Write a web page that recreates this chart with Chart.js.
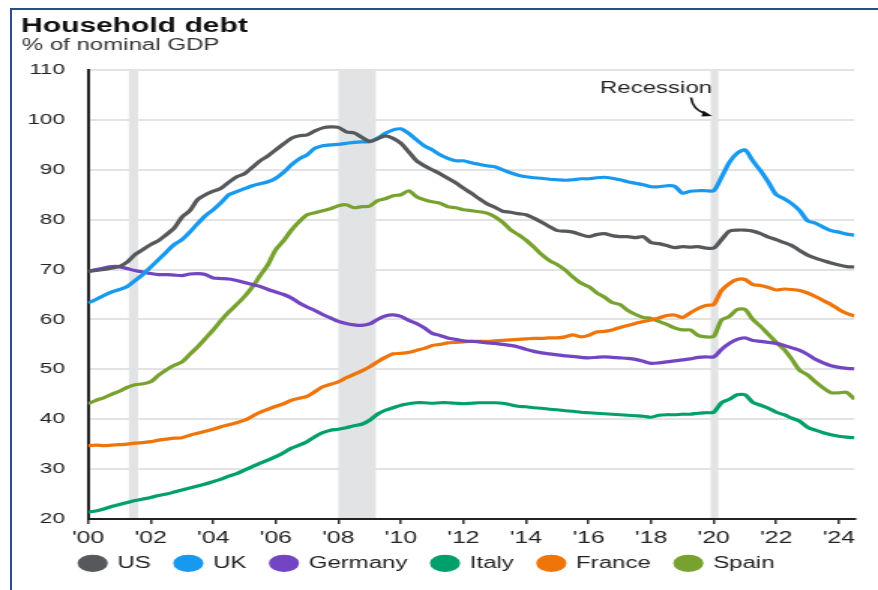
<!DOCTYPE html>
<html>
<head>
<meta charset="utf-8">
<title>Household debt</title>
<script src="https://cdn.jsdelivr.net/npm/chart.js@4.4.1/dist/chart.umd.min.js"></script>
<style>
  html, body { margin: 0; padding: 0; background: #fff; }
  body { width: 878px; height: 590px; position: relative; overflow: hidden; }
  #frame {
    position: absolute; left: 10px; top: 8px; right: 0; bottom: 0;
    border-left: 2px solid #2d4c85; border-top: 2px solid #2d4c85;
  }
  /* chart is laid out narrow and widened, which gives the wide lettering */
  #stage {
    position: absolute; left: 0; top: 0; width: 585px; height: 590px;
    transform: scaleX(1.50085); transform-origin: 0 0;
  }
</style>
</head>
<body>
<div id="frame"></div>
<div id="stage"><canvas id="debtChart" width="585" height="590"></canvas></div>
<script>
// household debt, % of nominal GDP, quarterly from 2000 Q1 to 2024 Q3
const usDebt = [
  69.6, 69.8, 70.0, 70.3,  70.6, 71.5, 73.0, 74.0,  75.0, 75.8, 77.0, 78.3,
  80.5, 81.8, 84.0, 85.0,  85.7, 86.3, 87.5, 88.6,  89.2, 90.5, 91.8, 92.8,
  94.0, 95.2, 96.3, 96.8,  97.0, 97.8, 98.4, 98.6,  98.5, 97.6, 97.4, 96.5,
  95.7, 96.2, 96.8, 96.3,  95.3, 93.6, 91.8, 90.8,  90.0, 89.2, 88.3, 87.4,
  86.3, 85.3, 84.2, 83.2,  82.5, 81.7, 81.5, 81.2,  81.0, 80.3, 79.5, 78.6,
  77.8, 77.7, 77.5, 77.0,  76.6, 77.0, 77.2, 76.8,  76.6, 76.6, 76.4, 76.6,
  75.4, 75.2, 74.8, 74.4,  74.6, 74.5, 74.6, 74.3,  74.3, 76.0, 77.7, 77.9,
  77.9, 77.7, 77.2, 76.5,  76.0, 75.4, 74.8, 73.8,  72.9, 72.3, 71.8, 71.3,
  70.9, 70.6, 70.5
];
const ukDebt = [
  63.3, 64.0, 64.8, 65.5,  66.0, 66.6, 67.8, 69.0,  70.5, 72.0, 73.5, 75.0,
  76.0, 77.5, 79.2, 80.8,  82.0, 83.4, 85.0, 85.6,  86.2, 86.8, 87.2, 87.6,
  88.3, 89.5, 91.0, 92.2,  93.0, 94.3, 94.8, 95.0,  95.1, 95.3, 95.5, 95.6,
  95.6, 96.3, 97.3, 98.0,  98.2, 97.3, 96.0, 94.8,  94.0, 93.0, 92.3, 91.8,
  91.8, 91.4, 91.1, 90.8,  90.6, 90.0, 89.4, 88.9,  88.6, 88.4, 88.3, 88.1,
  88.0, 87.9, 88.0, 88.2,  88.2, 88.4, 88.5, 88.3,  88.0, 87.6, 87.3, 87.0,
  86.6, 86.6, 86.8, 86.7,  85.3, 85.7, 85.8, 85.8,  85.8, 88.5, 91.5, 93.3,
  94.0, 91.8, 89.8, 87.5,  85.0, 84.2, 83.2, 81.8,  79.8, 79.3, 78.5, 77.8,
  77.5, 77.1, 76.9
];
const germanyDebt = [
  69.6, 70.0, 70.3, 70.6,  70.6, 70.2, 69.8, 69.5,  69.2, 69.0, 69.0, 68.9,
  68.8, 69.1, 69.2, 69.0,  68.3, 68.2, 68.1, 67.8,  67.4, 67.0, 66.6, 66.0,
  65.5, 65.0, 64.3, 63.3,  62.5, 61.8, 61.0, 60.3,  59.6, 59.2, 58.9, 58.8,
  59.1, 60.0, 60.7, 60.9,  60.6, 59.8, 59.2, 58.3,  57.2, 56.8, 56.3, 56.0,
  55.7, 55.6, 55.5, 55.3,  55.2, 55.0, 54.8, 54.5,  54.0, 53.6, 53.3, 53.1,
  52.9, 52.7, 52.6, 52.4,  52.3, 52.4, 52.5, 52.4,  52.3, 52.2, 52.0, 51.6,
  51.2, 51.3, 51.5, 51.7,  51.9, 52.1, 52.4, 52.5,  52.5, 54.0, 55.2, 56.0,
  56.3, 55.8, 55.6, 55.4,  55.2, 54.8, 54.3, 53.8,  53.0, 52.0, 51.3, 50.7,
  50.4, 50.2, 50.1
];
const italyDebt = [
  21.4, 21.6, 22.0, 22.5,  22.9, 23.3, 23.7, 24.0,  24.3, 24.7, 25.0, 25.4,
  25.8, 26.2, 26.6, 27.0,  27.5, 28.0, 28.6, 29.1,  29.8, 30.5, 31.2, 31.8,
  32.5, 33.3, 34.2, 34.8,  35.5, 36.5, 37.3, 37.8,  38.0, 38.3, 38.7, 39.0,
  39.8, 41.0, 41.8, 42.3,  42.8, 43.1, 43.3, 43.3,  43.2, 43.3, 43.3, 43.2,
  43.1, 43.2, 43.3, 43.3,  43.3, 43.2, 42.9, 42.6,  42.5, 42.3, 42.2, 42.0,
  41.9, 41.7, 41.6, 41.4,  41.3, 41.2, 41.1, 41.0,  40.9, 40.8, 40.7, 40.6,
  40.4, 40.8, 40.9, 40.9,  41.0, 41.0, 41.2, 41.3,  41.4, 43.3, 44.0, 44.9,
  44.9, 43.4, 42.8, 42.2,  41.4, 40.9, 40.2, 39.6,  38.4, 37.8, 37.3, 36.9,
  36.6, 36.4, 36.3
];
const franceDebt = [
  34.7, 34.8, 34.7, 34.8,  34.9, 35.0, 35.2, 35.3,  35.5, 35.8, 36.0, 36.2,
  36.3, 36.8, 37.2, 37.6,  38.0, 38.5, 38.9, 39.3,  39.8, 40.6, 41.4, 42.0,
  42.6, 43.1, 43.8, 44.2,  44.6, 45.5, 46.5, 47.0,  47.5, 48.3, 49.0, 49.7,
  50.5, 51.5, 52.4, 53.1,  53.2, 53.4, 53.8, 54.2,  54.8, 55.0, 55.3, 55.4,
  55.5, 55.6, 55.6, 55.6,  55.7, 55.8, 55.9, 56.0,  56.1, 56.2, 56.2, 56.3,
  56.3, 56.5, 56.9, 56.5,  56.8, 57.5, 57.6, 57.9,  58.4, 58.8, 59.2, 59.6,
  59.9, 60.3, 60.8, 60.9,  60.4, 61.3, 62.2, 62.8,  63.0, 65.8, 67.2, 68.0,
  68.0, 67.0, 66.8, 66.4,  65.9, 66.1, 66.0, 65.8,  65.3, 64.6, 63.8, 63.0,
  62.0, 61.2, 60.7
];
const spainDebt = [
  43.1, 43.8, 44.3, 45.0,  45.6, 46.4, 46.9, 47.1,  47.5, 48.8, 49.9, 50.8,
  51.5, 53.0, 54.5, 56.2,  57.9, 59.8, 61.5, 63.0,  64.6, 66.5, 68.8, 71.0,
  74.0, 75.8, 77.9, 79.6,  81.0, 81.4, 81.8, 82.2,  82.8, 83.0, 82.4, 82.6,
  82.7, 83.8, 84.2, 84.8,  85.0, 85.8, 84.6, 84.0,  83.6, 83.3, 82.6, 82.4,
  82.0, 81.8, 81.6, 81.3,  80.6, 79.5, 78.0, 77.0,  75.9, 74.5, 73.0, 71.8,
  71.0, 69.9, 68.5, 67.3,  66.6, 65.4, 64.5, 63.4,  63.0, 61.8, 61.0, 60.4,
  60.2, 59.6, 59.0, 58.3,  57.9, 57.9, 56.8, 56.5,  56.6, 59.9, 60.6, 62.0,
  62.0, 60.0, 58.6, 57.0,  55.4, 54.0, 52.0, 49.8,  48.9, 47.5, 46.3, 45.3,
  45.3, 45.4, 44.0
];

const quarters = usDebt.map((_, i) => 2000 + i / 4);
const xTickYears = [2000, 2002, 2004, 2006, 2008, 2010, 2012, 2014, 2016, 2018, 2020, 2022, 2024];
const recessions = [[2001.3, 2001.6], [2008.0, 2009.2], [2019.9, 2020.15]];

const series = [
  { label: 'US', values: usDebt, color: '#56595c' },
  { label: 'UK', values: ukDebt, color: '#1799ef' },
  { label: 'Germany', values: germanyDebt, color: '#7345c2' },
  { label: 'Italy', values: italyDebt, color: '#009f6b' },
  { label: 'France', values: franceDebt, color: '#ef7409' },
  { label: 'Spain', values: spainDebt, color: '#78a22f' }
];

const FONT = "'Liberation Sans', Arial, sans-serif";
Chart.defaults.font.family = FONT;

const yearLabel = yr => "'" + String(yr).slice(2);

// grey recession bands behind the lines
const recessionBands = {
  id: 'recessionBands',
  beforeDatasetsDraw(chart) {
    const { ctx, chartArea, scales: { x } } = chart;
    ctx.save();
    ctx.fillStyle = '#e2e3e5';
    recessions.forEach(([start, end]) => {
      const x0 = x.getPixelForValue(start);
      const x1 = x.getPixelForValue(end);
      ctx.fillRect(x0, chartArea.top, x1 - x0, chartArea.bottom - chartArea.top - 1);
    });
    ctx.restore();
  }
};

// year labels under the tick marks (drawn here so they are not clipped to the thin axis box)
const yearLabels = {
  id: 'yearLabels',
  afterDraw(chart) {
    const { ctx, chartArea, scales: { x } } = chart;
    ctx.save();
    ctx.font = '16.5px ' + FONT;
    ctx.fillStyle = '#222';
    ctx.textAlign = 'center';
    ctx.textBaseline = 'alphabetic';
    xTickYears.forEach(yr => {
      ctx.fillText(yearLabel(yr), x.getPixelForValue(yr), chartArea.bottom + 24);
    });
    ctx.restore();
  }
};

// "Recession" label with its curved arrow into the 2020 band
const recessionNote = {
  id: 'recessionNote',
  afterDatasetsDraw(chart) {
    const { ctx, scales: { x, y } } = chart;
    const bx = x.getPixelForValue(recessions[2][0]);
    const ty = y.getPixelForValue(106.6);
    ctx.save();
    ctx.font = '16px ' + FONT;
    ctx.fillStyle = '#222';
    ctx.textAlign = 'right';
    ctx.textBaseline = 'alphabetic';
    ctx.fillText('Recession', bx + 1, ty + 5.7);

    ctx.strokeStyle = '#111';
    ctx.fillStyle = '#111';
    ctx.lineWidth = 1.6;
    ctx.beginPath();
    ctx.moveTo(bx - 13, ty + 10.5);
    ctx.quadraticCurveTo(bx - 12, ty + 22, bx - 4, ty + 26.5);
    ctx.stroke();
    ctx.beginPath();
    ctx.moveTo(bx + 1, ty + 29);
    ctx.lineTo(bx - 5, ty + 23.5);
    ctx.lineTo(bx - 6, ty + 29.5);
    ctx.closePath();
    ctx.fill();
    ctx.restore();
  }
};

// title and unit line in the top left corner
const headings = {
  id: 'headings',
  afterDraw(chart) {
    const ctx = chart.ctx;
    ctx.save();
    ctx.textAlign = 'left';
    ctx.textBaseline = 'alphabetic';
    ctx.fillStyle = '#111';
    ctx.font = 'bold 20px ' + FONT;
    ctx.fillText('Household debt', 14, 31.7);
    ctx.fillStyle = '#333';
    ctx.font = '16px ' + FONT;
    ctx.fillText('% of nominal GDP', 14.5, 49.8);
    ctx.restore();
  }
};

new Chart(document.getElementById('debtChart'), {
  type: 'line',
  data: {
    datasets: series.map(s => ({
      label: s.label,
      data: s.values.map((v, i) => ({ x: quarters[i], y: v })),
      borderColor: s.color,
      backgroundColor: s.color,
      borderWidth: 3.2,
      pointRadius: 0,
      tension: 0.25,
      fill: false
    }))
  },
  options: {
    responsive: false,
    animation: false,
    layout: { padding: { top: 70, left: 0, right: 15.7, bottom: 8.7 } },
    scales: {
      x: {
        type: 'linear',
        min: 2000,
        max: 2024.5,
        afterBuildTicks: scale => { scale.ticks = xTickYears.map(v => ({ value: v })); },
        afterFit: scale => { scale.height = 19.8; },
        grid: { drawOnChartArea: false, drawTicks: true, tickLength: 5, color: '#333', lineWidth: 1.5 },
        border: { display: true, color: '#222', width: 2 },
        ticks: { display: false }
      },
      y: {
        min: 20,
        max: 110,
        afterFit: scale => { scale.width = 58.7; },
        ticks: { stepSize: 10, padding: 15.4, color: '#222', font: { size: 15 } },
        grid: { drawTicks: false, color: '#e3e3e3', lineWidth: 2 },
        border: { display: true, color: '#222', width: 2 }
      }
    },
    plugins: {
      legend: {
        position: 'bottom',
        align: 'center',
        labels: {
          usePointStyle: true,
          pointStyle: 'circle',
          pointStyleWidth: 17,
          boxHeight: 10,
          padding: 16.5,
          color: '#222',
          font: { size: 16 }
        }
      },
      tooltip: { enabled: false }
    }
  },
  plugins: [recessionBands, recessionNote, yearLabels, headings]
});
</script>
</body>
</html>
